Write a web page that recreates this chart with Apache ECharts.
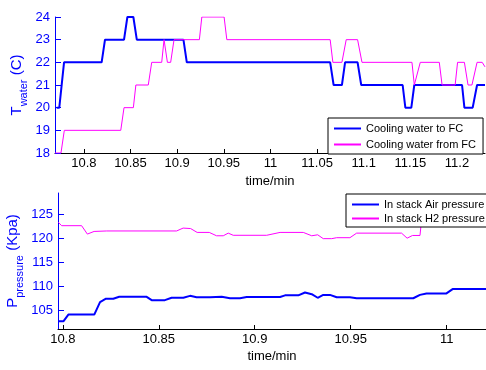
<!DOCTYPE html>
<html>
<head>
<meta charset="utf-8">
<script src="https://cdn.jsdelivr.net/npm/echarts@6/dist/echarts.min.js"></script>
<style>
  html, body { margin: 0; padding: 0; background: #fff; }
  #chart { width: 486px; height: 370px; }
</style>
</head>
<body>
<div id="chart"></div>
<script>
// top plot: water temperature
const waterToFcTime = [10.7708, 10.7736, 10.7787, 10.819, 10.8226, 10.843, 10.8466, 10.853, 10.8567, 10.9067,
  10.9103, 11.064, 11.0677, 11.0766, 11.080, 11.0934, 11.0973, 11.1417, 11.1446, 11.151,
  11.1542, 11.2054, 11.2079, 11.2168, 11.2215, 11.23]
const waterToFc = [20, 20, 22, 22, 23, 23, 24, 24, 23, 23,
  22, 22, 21, 21, 22, 22, 21, 21, 20, 20,
  21, 21, 20, 20, 21, 21]

const waterFromFcTime = [10.769, 10.7754, 10.779, 10.8395, 10.843, 10.853, 10.8557, 10.869, 10.8727, 10.8834,
  10.8859, 10.8895, 10.893, 10.8966, 10.9238, 10.9264, 10.9503, 10.9532, 11.064, 11.0669,
  11.0766, 11.0812, 11.0934, 11.0981, 11.1517, 11.1542, 11.1606, 11.181, 11.184, 11.198,
  11.2006, 11.2079, 11.2118, 11.216, 11.2215, 11.227, 11.23]
const waterFromFc = [18, 18, 19, 19, 20, 20, 21, 21, 22, 22,
  23, 22, 22, 23, 23, 24, 24, 23, 23, 22,
  22, 23, 23, 22, 22, 21, 22, 22, 21, 21,
  22, 22, 21, 21, 22, 22, 21.8]

// bottom plot: stack pressure
const airTime = [10.7977, 10.8003, 10.8029, 10.8164, 10.8194, 10.8225, 10.8263, 10.8294, 10.8437, 10.8463,
  10.8532, 10.8567, 10.8628, 10.8663, 10.8697, 10.8767, 10.8828, 10.8871, 10.8923, 10.8958,
  10.9132, 10.9158, 10.9227, 10.9262, 10.9297, 10.9328, 10.9357, 10.9392, 10.9427, 10.9496,
  10.9531, 10.9826, 10.9861, 10.9895, 10.9999, 11.0031, 11.0205]
const airPressure = [102.7, 102.7, 104.1, 104.1, 106.7, 107.4, 107.4, 107.8, 107.8, 107.1,
  107.1, 107.6, 107.6, 108.0, 107.7, 107.7, 107.8, 107.5, 107.5, 107.75,
  107.75, 108.1, 108.1, 108.7, 108.35, 107.6, 108.2, 108.2, 107.7, 107.7,
  107.5, 107.5, 108.2, 108.5, 108.5, 109.4, 109.4]

const h2Time = [10.7977, 10.7994, 10.8098, 10.8128, 10.8163, 10.8229, 10.8593, 10.8627, 10.8666, 10.8700,
  10.8763, 10.8801, 10.8836, 10.8862, 10.8888, 10.9062, 10.9132, 10.9253, 10.9297, 10.9328,
  10.9357, 10.9401, 10.9427, 10.9496, 10.9531, 10.9765, 10.9794, 10.9822, 10.9861, 10.9875,
  11.0205]
const h2Pressure = [123.3, 122.6, 122.6, 120.85, 121.4, 121.5, 121.5, 122.1, 122.0, 121.2,
  121.2, 120.5, 120.5, 121.05, 120.6, 120.6, 121.2, 121.2, 120.5, 120.7,
  119.9, 119.9, 120.1, 120.1, 121.05, 121.05, 120.0, 120.56, 120.56, 126,
  126]

const topTicks = [10.8, 10.85, 10.9, 10.95, 11, 11.05, 11.1, 11.15, 11.2]
const bottomTicks = [10.8, 10.85, 10.9, 10.95, 11]
const pressureTicks = [105, 110, 115, 120, 125]

const FONT = '"Liberation Sans", Arial, sans-serif'
const BLUE = '#0000ff'
const MAGENTA = '#ff00ff'

const zip = (xs, ys) => xs.map((x, i) => [x, ys[i]])

const xAxisBase = (gridIndex, min, max, ticks, nameGap) => ({
  type: 'value',
  gridIndex: gridIndex,
  min: min,
  max: max,
  name: 'time/min',
  nameLocation: 'middle',
  nameGap: nameGap,
  nameMoveOverlap: false,
  nameTextStyle: { color: '#000', fontSize: 13, fontFamily: FONT },
  axisLine: { onZero: false, lineStyle: { color: '#000', width: 1 } },
  axisTick: { inside: true, length: 4, customValues: ticks, lineStyle: { color: '#000' } },
  axisLabel: { customValues: ticks, color: '#000', fontSize: 13, fontFamily: FONT, margin: 4 },
  splitLine: { show: false }
})

const yAxisBase = (gridIndex, nameGap) => ({
  type: 'value',
  gridIndex: gridIndex,
  nameLocation: 'middle',
  nameGap: nameGap,
  nameMoveOverlap: false,
  axisLine: { show: true, lineStyle: { color: BLUE, width: 1 } },
  axisTick: { inside: true, length: 6, lineStyle: { color: BLUE } },
  axisLabel: { color: BLUE, fontSize: 13, fontFamily: FONT, margin: 5 },
  splitLine: { show: false }
})

const nameRich = {
  t: { fontSize: 15, color: BLUE, fontFamily: FONT, lineHeight: 24, verticalAlign: 'middle' },
  s: { fontSize: 11, color: BLUE, fontFamily: FONT, lineHeight: 24, verticalAlign: 'bottom' }
}

const legendBase = {
  orient: 'vertical',
  backgroundColor: '#fff',
  borderColor: '#000',
  borderWidth: 1,
  borderRadius: 0,
  icon: 'rect',
  itemWidth: 27,
  itemHeight: 2,
  textStyle: { color: '#000', fontSize: 11, fontFamily: FONT }
}

const chart = echarts.init(document.getElementById('chart'), null, { renderer: 'canvas' })

const option = {
  animation: false,
  backgroundColor: '#fff',
  textStyle: { fontFamily: FONT },
  grid: [
    { left: 55, top: 17, width: 430, height: 136, containLabel: false, outerBoundsMode: 'none' },
    { left: 58, top: 193, width: 428, height: 136, containLabel: false, outerBoundsMode: 'none' }
  ],
  legend: [
    Object.assign({}, legendBase, {
      data: ['Cooling water to FC', 'Cooling water from FC'],
      left: 328, top: 118, padding: [5, 7, 4, 6], itemGap: 5
    }),
    Object.assign({}, legendBase, {
      data: ['In stack Air pressure', 'In stack H2 pressure'],
      left: 346, top: 194, padding: [5, 4, 3, 6], itemGap: 3
    })
  ],
  xAxis: [
    xAxisBase(0, 10.769, 11.23, topTicks, 22),
    xAxisBase(1, 10.7975, 11.0205, bottomTicks, 21)
  ],
  yAxis: [
    Object.assign(yAxisBase(0, 26), {
      min: 18, max: 24, interval: 1,
      name: '{t|T}{s|water}{t| (C)}',
      nameTextStyle: { rich: nameRich }
    }),
    Object.assign(yAxisBase(1, 33), {
      min: 101.1, max: 129.4,
      name: '{t|P}{s|pressure}{t| (Kpa)}',
      nameTextStyle: { rich: nameRich },
      axisTick: { inside: true, length: 6, customValues: pressureTicks, lineStyle: { color: BLUE } },
      axisLabel: { customValues: pressureTicks, color: BLUE, fontSize: 13, fontFamily: FONT, margin: 5 }
    })
  ],
  series: [
    {
      name: 'Cooling water to FC', type: 'line', xAxisIndex: 0, yAxisIndex: 0,
      showSymbol: false, symbol: 'none', color: BLUE,
      lineStyle: { color: BLUE, width: 2 },
      data: zip(waterToFcTime, waterToFc)
    },
    {
      name: 'Cooling water from FC', type: 'line', xAxisIndex: 0, yAxisIndex: 0,
      showSymbol: false, symbol: 'none', color: MAGENTA,
      lineStyle: { color: MAGENTA, width: 1 },
      data: zip(waterFromFcTime, waterFromFc)
    },
    {
      name: 'In stack Air pressure', type: 'line', xAxisIndex: 1, yAxisIndex: 1,
      showSymbol: false, symbol: 'none', color: BLUE,
      lineStyle: { color: BLUE, width: 2 },
      data: zip(airTime, airPressure)
    },
    {
      name: 'In stack H2 pressure', type: 'line', xAxisIndex: 1, yAxisIndex: 1,
      showSymbol: false, symbol: 'none', color: MAGENTA,
      lineStyle: { color: MAGENTA, width: 1 },
      data: zip(h2Time, h2Pressure)
    }
  ]
}

chart.setOption(option)
</script>
</body>
</html>
